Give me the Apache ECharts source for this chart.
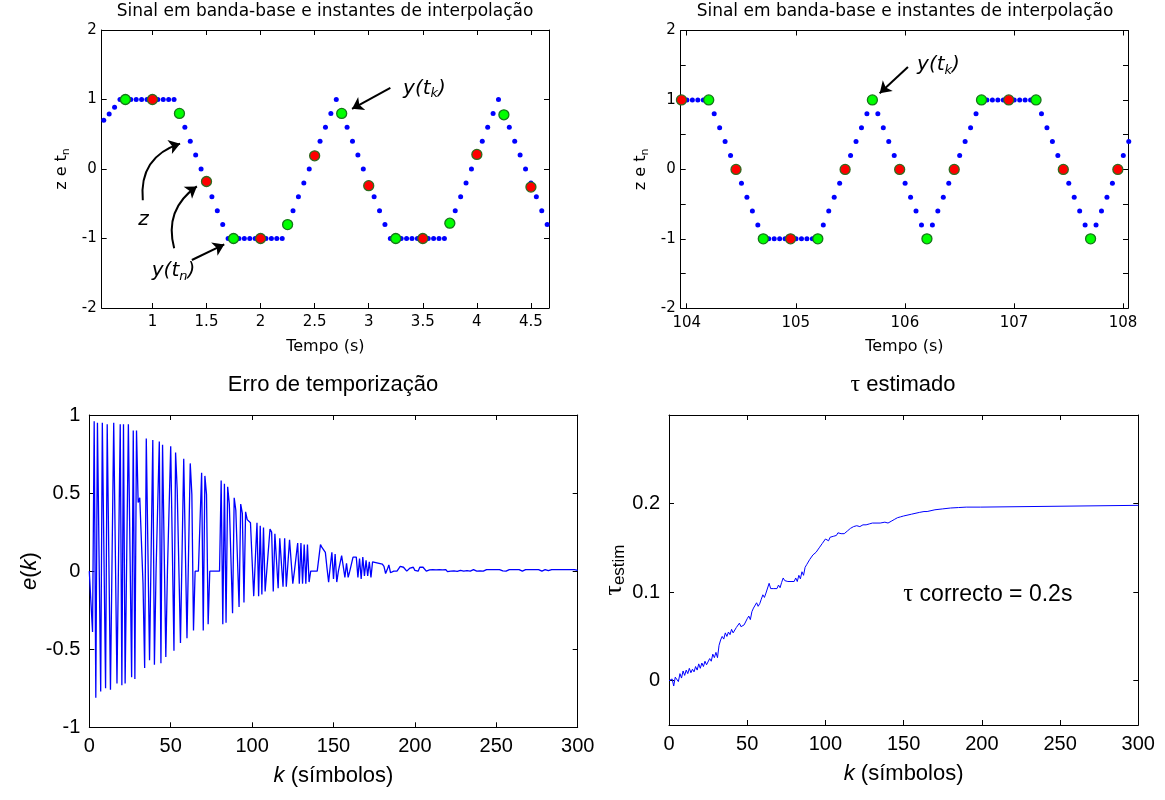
<!DOCTYPE html>
<html><head><meta charset="utf-8">
<script src="https://cdn.jsdelivr.net/npm/echarts@6/dist/echarts.min.js"></script>
<style>html,body{margin:0;padding:0;background:#fff}#c{width:1165px;height:800px}</style>
</head><body><div id="c"></div>
<script>
// ---------- DATA ----------
// top-left: baseband signal samples z (start time, sample step, values)
const tlT0 = 0.55, tlDt = 0.05;
const tlZ = [0.70,0.79,0.89,1,1,1,1,1,1,1,
  1,1,1,1,0.8,0.6,0.4,0.2,0,-0.2,
  -0.4,-0.6,-0.8,-1,-1,-1,-1,-1,-1,-1,
  -1,-1,-1,-1,-0.8,-0.6,-0.4,-0.2,0,0.2,
  0.4,0.6,0.8,1,0.8,0.6,0.4,0.2,0,-0.2,
  -0.4,-0.6,-0.8,-1,-1,-1,-1,-1,-1,-1,
  -1,-1,-1,-1,-0.8,-0.6,-0.4,-0.2,0,0.2,
  0.4,0.6,0.8,1,0.8,0.6,0.4,0.2,0,-0.2,
  -0.4,-0.6,-0.8];
const tlRedT = [1.0,1.5,2.0,2.5,3.0,3.5,4.0,4.5];
const tlRedV = [1,-0.18,-1,0.19,-0.24,-1,0.21,-0.26];
const tlGreenT = [0.75,1.25,1.75,2.25,2.75,3.25,3.75,4.25];
const tlGreenV = [1,0.8,-1,-0.8,0.8,-1,-0.78,0.78];

// top-right
const trT0 = 103.952, trDt = 0.05;
const trZ = [1,1,1,1,1,1,0.8,0.6,0.4,0.2,
  0,-0.2,-0.4,-0.6,-0.8,-1,-1,-1,-1,-1,
  -1,-1,-1,-1,-1,-1,-0.8,-0.6,-0.4,-0.2,
  0,0.2,0.4,0.6,0.8,1,0.8,0.6,0.4,0.2,
  0,-0.2,-0.4,-0.6,-0.8,-1,-0.8,-0.6,-0.4,-0.2,
  0,0.2,0.4,0.6,0.8,1,1,1,1,1,
  1,1,1,1,1,1,0.8,0.6,0.4,0.2,
  0,-0.2,-0.4,-0.6,-0.8,-1,-0.8,-0.6,-0.4,-0.2,
  0,0.2,0.4];
const trRedT = [103.952,104.452,104.952,105.452,105.952,106.452,106.952,107.452,107.952];
const trRedV = [1,0,-1,0,0,0,1,0,0];
const trGreenT = [104.202,104.702,105.202,105.702,106.202,106.702,107.202,107.702];
const trGreenV = [1,-1,-1,1,-1,1,1,-1];

// bottom-left: timing error e(k), k = 0..300
const errE = [0,-0.2,-0.39,0.96,-0.81,0.95,0.09,-0.77,0.95,0.1,
  -0.75,0.94,0.09,-0.76,0.1,0.95,0.12,-0.72,0.11,0.94,
  -0.73,0.94,-0.72,0.11,0.94,0.13,-0.68,0.9,-0.69,0.9,
  0.44,0.47,0.47,-0.08,-0.62,0.85,0.14,-0.57,0.13,0.84,
  -0.6,0,0,0.83,-0.59,0.81,0.13,-0.55,0,0,
  0.8,0.15,-0.51,0.76,0.52,0.52,-0.46,0.13,0.72,0.14,
  -0.43,0.13,0.69,0.49,-0.38,0,0,0,0,0.63,
  -0.38,0.61,0.49,-0.34,0,0,0,0,0,0,
  0,0.58,-0.34,0.56,-0.33,0.54,0.43,0.42,-0.27,0.47,
  0.39,0.38,-0.23,0.43,0.37,-0.2,0.38,0.33,0.32,0.31,
  0.07,-0.16,0.08,0.31,-0.16,0.29,-0.15,0.28,-0.13,0,
  0,0.27,0.25,-0.13,0.24,0.23,-0.11,0.21,0.05,-0.1,
  0.21,-0.1,0.05,0.2,0.06,-0.08,0,0,0.18,-0.08,
  0.18,-0.08,0.17,-0.08,0.17,-0.07,0,0,0,0,
  0,0,0.17,0.15,0.14,0.12,0.02,-0.07,0.03,0.12,
  -0.05,0.11,-0.07,0,0,0.1,0.1,-0.04,0.05,-0.04,
  0,0,0.09,0.09,0.09,-0.04,0.08,-0.05,0.09,-0.03,
  0.07,-0.03,0.06,-0.04,0.06,0.055,0.055,0.055,0.05,0.05,
  0.045,0.03,-0.015,0.01,0.04,-0.01,0,0,0,0,
  0.01,0.03,0.03,0.025,0.02,0,0,0.02,0.025,0.025,
  0.005,0,0,0.025,0.025,0.025,0.015,0,0,0.008,
  0,0.01,0,0.008,-0.003,0.01,0,0.008,0,0.01,
  -0.003,0.008,0,0.01,0.002,0.01,-0.002,0.008,0.005,0.01,
  0,0.01,0.003,0.01,0,0.008,0.01,0.01,0,0.01,
  0.002,0.01,0,0.008,0.01,0.01,0.01,0.003,0.01,0.005,
  0.01,0.01,0.01,0.01,0.002,0.01,0,0.01,0.01,0.002,
  0.01,0,0.01,0.003,0.01,0.01,0,0.01,0.01,0.01,
  0.01,0.01,0.01,0.002,0.01,0.003,0.01,0.01,0,0.01,
  0.01,0.01,0.003,0.01,0.01,0.01,0.01,0.003,0.01,0.01,
  0.01,0.01,0.01,0.002,0.01,0.005,0.01,0.005,0.01,0.002,
  0.005];

// bottom-right: estimated tau
const tauK = [0,1,2,3,4,5,6,7,8,9,10,11,12,13,14,15,16,17,18,19,20,21,22,23,24,25,26,27,28,29,
  30,31,32,33,34,35,36,37,38,39,40,41,42,43,44,45,46,47,48,49,50,51,52,53,54,55,56,57,58,59,
  60,61,62,63,64,65,66,67,68,69,70,71,72,73,74,75,76,77,78,79,80,81,82,83,84,85,86,87,88,89,
  90,91,92,93,94,95,96,97,98,99,100,101,102,103,104,105,106,107,108,110,112,114,116,118,120,
  122,124,126,128,130,135,138,140,142,144,146,148,150,155,160,163,165,166,170,175,180,185,190,199,200,300];
const tauV = [0,-0.002,0.002,-0.006,0.004,0.006,-0.001,0.008,0.003,0.011,0.006,0.012,0.008,0.014,0.009,0.013,0.01,0.016,0.012,0.019,
  0.014,0.02,0.016,0.022,0.018,0.017,0.025,0.022,0.03,0.026,
  0.032,0.026,0.04,0.046,0.05,0.047,0.054,0.05,0.055,0.052,0.058,0.054,0.056,0.06,0.058,0.065,0.061,0.063,0.063,0.063,
  0.07,0.073,0.069,0.078,0.082,0.08,0.088,0.084,0.087,0.092,
  0.097,0.094,0.099,0.101,0.11,0.104,0.104,0.104,0.104,0.104,0.108,0.105,0.111,0.116,0.113,0.112,0.112,0.112,0.112,0.112,
  0.112,0.116,0.112,0.119,0.115,0.123,0.119,0.128,0.131,0.134,
  0.137,0.136,0.142,0.144,0.145,0.147,0.15,0.152,0.155,0.157,0.16,0.161,0.158,0.162,0.16,0.163,0.165,0.164,0.167,0.166,
  0.166,0.169,0.172,0.174,0.175,
  0.174,0.176,0.176,0.177,0.178,0.178,0.179,0.178,0.18,0.182,0.184,0.185,0.186,0.188,0.19,0.191,0.191,0.192,0.193,0.194,
  0.195,0.1955,0.196,0.196,0.198,0.198];

// ticks
const tlXTicks = [1,1.5,2,2.5,3,3.5,4,4.5];
const topYLabels = [-2,-1,0,1,2];
const trXTicks = [104,105,106,107,108];
const trYTicks = [-2,-1.5,-1,-0.5,0,0.5,1,1.5,2];
const kTicks = [0,50,100,150,200,250,300];
const eTicks = [-1,-0.5,0,0.5,1];
const tauTicks = [0,0.1,0.2];

// ---------- CHART ----------
const FT = 'DejaVu Sans', FB = 'Liberation Sans';
const chart = echarts.init(document.getElementById('c'));
const xAxes = [], yAxes = [];
function lineSt(){ return {show:true,onZero:false,lineStyle:{color:'#000',width:1}}; }
function tickSt(vals){ return {show:true,inside:true,length:5,lineStyle:{color:'#000',width:1},customValues:vals}; }
function addFrame(g, c){
  xAxes.push({gridIndex:g,type:'value',position:'bottom',min:c.xmin,max:c.xmax,
    axisLine:lineSt(),splitLine:{show:false},axisTick:tickSt(c.xt),
    axisLabel:{customValues:c.xl,margin:c.xm,color:'#000',fontFamily:c.font,fontSize:c.fs,fontWeight:c.fw,showMinLabel:true,showMaxLabel:true},
    name:c.xName,nameLocation:'middle',nameGap:c.xGap,
    nameTextStyle:{color:'#000',fontFamily:c.font,fontSize:c.nfs,rich:c.rich}});
  xAxes.push({gridIndex:g,type:'value',position:'top',min:c.xmin,max:c.xmax,
    axisLine:lineSt(),splitLine:{show:false},axisTick:tickSt(c.xt),axisLabel:{show:false}});
  yAxes.push({gridIndex:g,type:'value',position:'left',min:c.ymin,max:c.ymax,
    axisLine:lineSt(),splitLine:{show:false},axisTick:tickSt(c.yt),
    axisLabel:{customValues:c.yl,margin:c.ym,color:'#000',fontFamily:c.font,fontSize:c.fs,fontWeight:c.fw,showMinLabel:true,showMaxLabel:true},
    name:c.yName,nameLocation:'middle',nameGap:c.yGap,nameRotate:90,
    nameTextStyle:{color:'#000',fontFamily:c.font,fontSize:c.nfs,rich:c.rich}});
  yAxes.push({gridIndex:g,type:'value',position:'right',min:c.ymin,max:c.ymax,
    axisLine:lineSt(),splitLine:{show:false},axisTick:tickSt(c.yt),axisLabel:{show:false}});
}
const topRich = {m:{fontFamily:FT,fontSize:16,lineHeight:20,color:'#000'},
  s:{fontFamily:FT,fontSize:11,lineHeight:10,verticalAlign:'bottom',color:'#000'}};
const botRich = {i:{fontFamily:FB,fontSize:22,fontStyle:'italic',color:'#000'},n:{fontFamily:FB,fontSize:22,color:'#000'},
  t:{fontFamily:'Liberation Serif',fontSize:26,lineHeight:28,color:'#000'},s:{fontFamily:FB,fontSize:17,lineHeight:14,verticalAlign:'bottom',color:'#000'}};
addFrame(0,{xmin:0.531,xmax:4.667,ymin:-2,ymax:2,xt:tlXTicks,xl:tlXTicks,yt:topYLabels,yl:topYLabels,xm:7,ym:5,font:FT,fs:15,fw:'normal',nfs:16,
  xName:'{m|Tempo (s)}',xGap:29,yName:'{m|z e t}{s|n}',yGap:30,rich:topRich});
addFrame(1,{xmin:103.945,xmax:108.045,ymin:-2,ymax:2,xt:trXTicks,xl:trXTicks,yt:trYTicks,yl:topYLabels,xm:7,ym:5,font:FT,fs:15,fw:'normal',nfs:16,
  xName:'{m|Tempo (s)}',xGap:29,yName:'{m|z e t}{s|n}',yGap:30,rich:topRich});
addFrame(2,{xmin:0,xmax:300,ymin:-1,ymax:1,xt:kTicks,xl:kTicks,yt:eTicks,yl:eTicks,xm:9,ym:9,font:FB,fs:20,fw:'normal',nfs:22,
  xName:'{i|k}{n| (símbolos)}',xGap:38,yName:'{i|e}{n|(}{i|k}{n|)}',yGap:48,rich:botRich});
addFrame(3,{xmin:0,xmax:300,ymin:-0.05,ymax:0.3,xt:kTicks,xl:kTicks,yt:tauTicks,yl:tauTicks,xm:9,ym:9,font:FB,fs:20,fw:'normal',nfs:22,
  xName:'{i|k}{n| (símbolos)}',xGap:38,yName:'{t|τ}{s|estim}',yGap:38,rich:botRich});

const annRich = {m:{fontFamily:FT,fontStyle:'italic',fontSize:20,lineHeight:24,color:'#000'},
  s:{fontFamily:FT,fontStyle:'italic',fontSize:13,lineHeight:11,verticalAlign:'bottom',color:'#000'}};
function pts(T,V){ return T.map((t,i)=>[t,V[i]]); }
function grid(T0,dt,Z){ return Z.map((v,k)=>[T0+k*dt, v]); }
function dots(g,data,color,size,border,z){
  return {type:'scatter',xAxisIndex:2*g,yAxisIndex:2*g,data:data,symbolSize:size,clip:false,silent:true,z:z,
    itemStyle:{color:color,borderColor:border||color,borderWidth:border?1.3:0,opacity:1}};
}
function arrows(g,list){
  return {type:'lines',coordinateSystem:'cartesian2d',xAxisIndex:2*g,yAxisIndex:2*g,polyline:false,silent:true,z:6,
    symbol:['none','arrow'],symbolSize:11,lineStyle:{color:'#000',width:2,opacity:1},
    data:list.map(a=>({coords:a.c,lineStyle:{curveness:a.cv||0}}))};
}
function labels(g,list,rich){
  return {type:'scatter',xAxisIndex:2*g,yAxisIndex:2*g,symbolSize:0,silent:true,z:7,clip:false,
    itemStyle:{color:'rgba(0,0,0,0)'},
    data:list.map(a=>({value:a.p,label:{show:true,position:'inside',formatter:a.t,rich:rich,align:a.al||'center',
      color:'#000',textBorderWidth:0,opacity:1}}))};
}
const series = [
  dots(0,grid(tlT0,tlDt,tlZ),'#0000ff',5,null,2),
  dots(0,pts(tlRedT,tlRedV),'#ff0000',10,'#2f6b1f',3),
  dots(0,pts(tlGreenT,tlGreenV),'#00ff00',10,'#16761a',3),
  arrows(0,[{c:[[0.911,-0.45],[1.256,0.365]],cv:0.4},{c:[[1.201,-1.14],[1.411,-0.251]],cv:0.35},
    {c:[[1.365,-1.309],[1.664,-1.085]]},{c:[[3.2,1.169],[2.846,0.866]]}]),
  labels(0,[{p:[0.918,-0.733],t:'{m|z}'},{p:[1.195,-1.47],t:'{m|y(t}{s|n}{m|)}'},{p:[3.516,1.16],t:'{m|y(t}{s|k}{m|)}'}],annRich),
  dots(1,grid(trT0,trDt,trZ),'#0000ff',5,null,2),
  dots(1,pts(trRedT,trRedV),'#ff0000',10,'#2f6b1f',3),
  dots(1,pts(trGreenT,trGreenV),'#00ff00',10,'#16761a',3),
  arrows(1,[{c:[[106.028,1.473],[105.769,1.098]]}]),
  labels(1,[{p:[106.308,1.506],t:'{m|y(t}{s|k}{m|)}'}],annRich),
  {type:'line',xAxisIndex:4,yAxisIndex:4,data:errE.map((v,k)=>[k,v]),showSymbol:false,symbol:'none',silent:true,
    lineStyle:{color:'#0000ff',width:1.3},z:3},
  {type:'line',xAxisIndex:6,yAxisIndex:6,data:pts(tauK,tauV),showSymbol:false,symbol:'none',silent:true,
    lineStyle:{color:'#0000ff',width:1},z:3},
  labels(3,[{p:[149.7,0.097],t:'{t|τ}{n| correcto = 0.2s}',al:'left'}],
    {t:{fontFamily:'Liberation Serif',fontSize:25,color:'#000'},n:{fontFamily:FB,fontSize:23,color:'#000'}})
];
const graphic = [
  {type:'text',x:325,y:12,style:{text:'Sinal em banda-base e instantes de interpolação',fontFamily:FT,fontSize:17,fill:'#000',align:'center',verticalAlign:'middle'}},
  {type:'text',x:905,y:12,style:{text:'Sinal em banda-base e instantes de interpolação',fontFamily:FT,fontSize:17,fill:'#000',align:'center',verticalAlign:'middle'}},
  {type:'text',x:333,y:385,style:{text:'Erro de temporização',fontFamily:FB,fontSize:22,fill:'#000',align:'center',verticalAlign:'middle'}},
  {type:'text',x:903,y:385,style:{text:'{t|τ}{n| estimado}',align:'center',verticalAlign:'middle',
    rich:{t:{fontFamily:'Liberation Serif',fontSize:24,fill:'#000'},n:{fontFamily:FB,fontSize:22,fill:'#000'}}}}
];
chart.setOption({
  animation:false,backgroundColor:'#fff',
  grid:[{left:101.7,top:30,width:447.3,height:278},{left:680.7,top:30.5,width:447.3,height:277.8},
        {left:89.3,top:415,width:488.4,height:312.3},{left:669,top:415,width:469.3,height:310}],
  xAxis:xAxes,yAxis:yAxes,series:series,graphic:graphic
});
</script></body></html>
